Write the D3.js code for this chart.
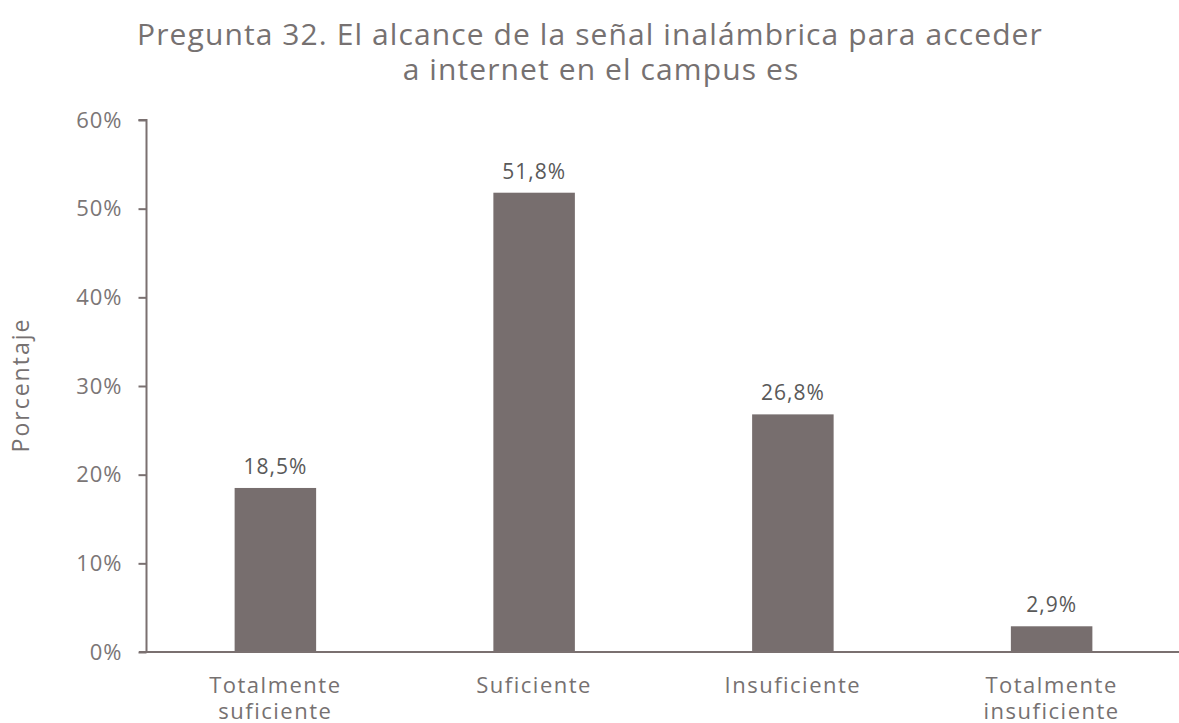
<!DOCTYPE html>
<html><head><meta charset="utf-8">
<script src="https://cdn.jsdelivr.net/npm/d3@7"></script>
<style>body{margin:0;background:#fff}svg{display:block}text{font-family:"Open Sans",sans-serif}</style>
</head><body><svg id="c" width="1179" height="723"></svg>
<script>
const categories = [["Totalmente","suficiente"],["Suficiente"],["Insuficiente"],["Totalmente","insuficiente"]];
const values = [18.5, 51.8, 26.8, 2.9];
const valueLabels = ["18,5%","51,8%","26,8%","2,9%"];
const yTicks = [0,10,20,30,40,50,60];
const titleLines = ["Pregunta 32. El alcance de la señal inalámbrica para acceder","a internet en el campus es"];
const yTitle = "Porcentaje";

const svg = d3.select("#c");
const textColor = "#767171", barColor = "#776e6e", axisColor = "#7a7070";
const x = d3.scaleBand().domain(d3.range(values.length)).range([146, 1181]).paddingInner(0.685).paddingOuter(0.3425);
const y = d3.scaleLinear().domain([0,60]).range([652,120]);

svg.append("g").selectAll("text").data(titleLines).join("text")
  .attr("x",(d,i)=>i?601:590).attr("y",(d,i)=>45+i*35).attr("text-anchor","middle")
  .attr("font-size",30).attr("letter-spacing",1.1).attr("fill",textColor).text(d=>d);

svg.append("g").selectAll("rect").data(values).join("rect")
  .attr("x",(d,i)=>x(i)).attr("width",x.bandwidth())
  .attr("y",d=>y(d)).attr("height",d=>y(0)-y(d)).attr("fill",barColor);

const yAxis = svg.append("g").attr("transform","translate(146.5,0)")
  .call(d3.axisLeft(y).tickValues(yTicks).tickFormat(d=>d+"%").tickSize(8).tickPadding(16));
yAxis.select(".domain").attr("stroke",axisColor).attr("stroke-width",2).attr("d","M-8,"+y(60)+"H0V"+y(0));
yAxis.selectAll(".tick line").attr("stroke",axisColor).attr("stroke-width",2);
yAxis.selectAll(".tick text").attr("fill","#7b7676").attr("font-size",22).attr("letter-spacing",1).attr("font-family","Open Sans");

svg.append("line").attr("x1",139).attr("x2",1179).attr("y1",y(0)).attr("y2",y(0))
  .attr("stroke",axisColor).attr("stroke-width",2);

svg.append("g").selectAll("text").data(values).join("text")
  .attr("x",(d,i)=>x(i)+x.bandwidth()/2).attr("y",d=>y(d)-14)
  .attr("text-anchor","middle").attr("font-size",21).attr("letter-spacing",1).attr("fill","#595959")
  .text((d,i)=>valueLabels[i]);

const cat = svg.append("g").selectAll("text").data(categories).join("text")
  .attr("x",(d,i)=>x(i)+x.bandwidth()/2).attr("y",693)
  .attr("text-anchor","middle").attr("font-size",22).attr("letter-spacing",1.5).attr("fill",textColor);
cat.selectAll("tspan").data(d=>d).join("tspan")
  .attr("x",function(){return this.parentNode.getAttribute("x");})
  .attr("dy",(d,i)=>i?26:0).text(d=>d);

svg.append("text").attr("transform","translate(29,385) rotate(-90)")
  .attr("text-anchor","middle").attr("font-size",23).attr("letter-spacing",2).attr("fill",textColor).text(yTitle);
</script></body></html>
